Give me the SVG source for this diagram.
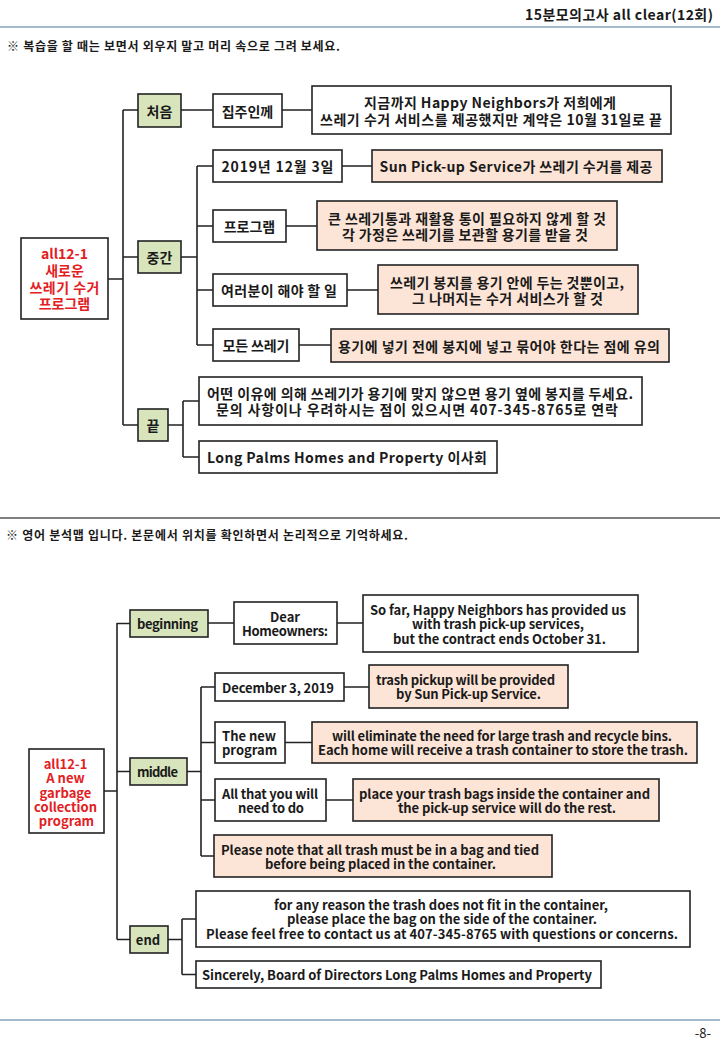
<svg xmlns="http://www.w3.org/2000/svg" width="720" height="1040" viewBox="0 0 720 1040">
<style>
text{font-family:"Noto Sans CJK KR","Noto Sans",sans-serif;fill:#1a1a1a;dominant-baseline:central}
.k{font-size:14px;font-weight:700;text-anchor:middle}
.e{font-size:13px;font-weight:700;text-anchor:middle}
.r{fill:#e3201f}
.box{fill:#fff;stroke:#222;stroke-width:1.6}
.g{fill:#d8e4bc;stroke:#222;stroke-width:1.6}
.p{fill:#fce4d6;stroke:#222;stroke-width:1.6}
.c{fill:none;stroke:#222;stroke-width:1.6}
.hd{font-size:14px;font-weight:700}
.ins{font-size:12px;font-weight:700}
</style>
<rect width="720" height="1040" fill="#fff"/>
<!-- page header -->
<g id="header">
<text class="hd" x="713" y="14" text-anchor="end" textLength="188">15분모의고사 all clear(12회)</text>
<line x1="0" y1="27" x2="720" y2="27" stroke="#86a3bf" stroke-width="1.6"/>
<text class="ins" x="7" y="45" textLength="333">※ 복습을 할 때는 보면서 외우지 말고 머리 속으로 그려 보세요.</text>
<line x1="0" y1="518" x2="720" y2="518" stroke="#555" stroke-width="1.4"/>
<text class="ins" x="6" y="534" textLength="402">※ 영어 분석맵 입니다. 본문에서 위치를 확인하면서 논리적으로 기억하세요.</text>
<line x1="0" y1="1020" x2="720" y2="1020" stroke="#86a3bf" stroke-width="1.6"/>
<text x="711" y="1032" text-anchor="end" font-size="13">-8-</text>
</g>

<!-- connectors -->
<g id="connectors" class="c">
<path d="M108 279H123M123 110V425M123 110H138M181 110H213M282 110H312M123 257H138M181 257H197M197 166V345M197 166H213M342 166H372M197 226H213M286 226H317M197 290H213M347 290H378M197 345H213M299 345H331M123 425H138M168 425H183M183 401V457M183 401H199M183 457H199"/>
<path d="M104 791H117M117 623V939.5M117 623.5H130M208 623H234M337 623H363M117 771.5H130M187 771.5H201M201 687V856M201 687H215M344 687H369M201 742.5H215M285 742.5H312M201 800H215M326 800H353M201 856H214M117 939.5H130M168 939.5H182M182 919V974.5M182 919H196M182 974.5H196"/>
</g>

<!-- top tree -->
<g id="k-root">
<rect class="box" x="21" y="238" width="87" height="81"/>
<text class="k r" x="64.5" y="253">all12-1</text>
<text class="k r" x="64.5" y="270">새로운</text>
<text class="k r" x="64.5" y="287" textLength="70">쓰레기 수거</text>
<text class="k r" x="64.5" y="303">프로그램</text>
</g>
<g id="k-begin"><rect class="g" x="138" y="94" width="43" height="33"/><text class="k" x="159.5" y="110.5">처음</text></g>
<g id="k-dear"><rect class="box" x="213" y="94" width="69" height="33"/><text class="k" x="247.5" y="110.5">집주인께</text></g>
<g id="k-sofar"><rect class="box" x="312" y="86" width="359" height="48"/>
<text class="k" x="490" y="102" textLength="252">지금까지 Happy Neighbors가 저희에게</text>
<text class="k" x="491" y="119" textLength="342">쓰레기 수거 서비스를 제공했지만 계약은 10월 31일로 끝</text></g>
<g id="k-middle"><rect class="g" x="138" y="241" width="43" height="32"/><text class="k" x="159.5" y="257">중간</text></g>
<g id="k-date"><rect class="box" x="213" y="150" width="129" height="32"/><text class="k" x="277.5" y="166" textLength="112">2019년 12월 3일</text></g>
<g id="k-sun"><rect class="p" x="372" y="150" width="290" height="32"/><text class="k" x="516" y="166" textLength="273">Sun Pick-up Service가 쓰레기 수거를 제공</text></g>
<g id="k-prog"><rect class="box" x="213" y="210" width="73" height="32"/><text class="k" x="249.5" y="226">프로그램</text></g>
<g id="k-elim"><rect class="p" x="317" y="201" width="300" height="49"/>
<text class="k" x="467" y="217.5" textLength="278">큰 쓰레기통과 재활용 통이 필요하지 않게 할 것</text>
<text class="k" x="465" y="233.5" textLength="246">각 가정은 쓰레기를 보관할 용기를 받을 것</text></g>
<g id="k-todo"><rect class="box" x="213" y="274" width="134" height="32"/><text class="k" x="279" y="290" textLength="116">여러분이 해야 할 일</text></g>
<g id="k-place"><rect class="p" x="378" y="265" width="260" height="49"/>
<text class="k" x="507" y="282" textLength="234">쓰레기 봉지를 용기 안에 두는 것뿐이고,</text>
<text class="k" x="507.5" y="298" textLength="191">그 나머지는 수거 서비스가 할 것</text></g>
<g id="k-all"><rect class="box" x="213" y="329" width="86" height="32"/><text class="k" x="256" y="345" textLength="67">모든 쓰레기</text></g>
<g id="k-note"><rect class="p" x="331" y="329" width="338" height="33"/><text class="k" x="499" y="345.5" textLength="322">용기에 넣기 전에 봉지에 넣고 묶어야 한다는 점에 유의</text></g>
<g id="k-end"><rect class="g" x="138" y="409" width="30" height="32"/><text class="k" x="153" y="425">끝</text></g>
<g id="k-reason"><rect class="box" x="199" y="377" width="443" height="48"/>
<text class="k" x="420" y="393" textLength="426">어떤 이유에 의해 쓰레기가 용기에 맞지 않으면 용기 옆에 봉지를 두세요.</text>
<text class="k" x="417" y="409" textLength="402">문의 사항이나 우려하시는 점이 있으시면 407-345-8765로 연락</text></g>
<g id="k-sign"><rect class="box" x="199" y="441" width="298" height="32"/><text class="k" x="347" y="457" textLength="280">Long Palms Homes and Property 이사회</text></g>

<!-- bottom tree -->
<g id="e-root">
<rect class="box" x="29" y="749" width="75" height="84"/>
<text class="e r" x="65.5" y="763">all12-1</text>
<text class="e r" x="65.5" y="777">A new</text>
<text class="e r" x="65.5" y="792">garbage</text>
<text class="e r" x="65.5" y="806">collection</text>
<text class="e r" x="66.5" y="820">program</text>
</g>
<g id="e-begin"><rect class="g" x="130" y="610" width="78" height="27"/><text class="e" x="167.5" y="623.5" textLength="61">beginning</text></g>
<g id="e-dear"><rect class="box" x="234" y="602" width="103" height="42"/>
<text class="e" x="285" y="616">Dear</text><text class="e" x="285" y="630" textLength="86">Homeowners:</text></g>
<g id="e-sofar"><rect class="box" x="363" y="595" width="275" height="57"/>
<text class="e" x="498" y="609" textLength="256">So far, Happy Neighbors has provided us</text>
<text class="e" x="498" y="623" textLength="172">with trash pick-up services,</text>
<text class="e" x="499.5" y="638" textLength="213">but the contract ends October 31.</text></g>
<g id="e-middle"><rect class="g" x="130" y="758" width="57" height="27"/><text class="e" x="157.5" y="771.5" textLength="41">middle</text></g>
<g id="e-date"><rect class="box" x="215" y="673" width="129" height="28"/><text class="e" x="278" y="687" textLength="112">December 3, 2019</text></g>
<g id="e-sun"><rect class="p" x="369" y="665" width="199" height="43"/>
<text class="e" x="465.5" y="679" textLength="179">trash pickup will be provided</text>
<text class="e" x="468.5" y="693" textLength="145">by Sun Pick-up Service.</text></g>
<g id="e-prog"><rect class="box" x="215" y="722" width="70" height="41"/>
<text class="e" x="222" y="735" style="text-anchor:start">The new</text>
<text class="e" x="222" y="749" style="text-anchor:start">program</text></g>
<g id="e-elim"><rect class="p" x="312" y="722" width="385" height="41"/>
<text class="e" x="502" y="735" textLength="340">will eliminate the need for large trash and recycle bins.</text>
<text class="e" x="503" y="749" textLength="370">Each home will receive a trash container to store the trash.</text></g>
<g id="e-todo"><rect class="box" x="215" y="779" width="111" height="42"/>
<text class="e" x="270" y="793" textLength="96">All that you will</text>
<text class="e" x="271" y="807" textLength="66">need to do</text></g>
<g id="e-place"><rect class="p" x="353" y="779" width="306" height="42"/>
<text class="e" x="504.5" y="793" textLength="291">place your trash bags inside the container and</text>
<text class="e" x="507" y="807" textLength="218">the pick-up service will do the rest.</text></g>
<g id="e-note"><rect class="p" x="214" y="835" width="338" height="42"/>
<text class="e" x="380" y="849" textLength="318">Please note that all trash must be in a bag and tied</text>
<text class="e" x="380.5" y="863" textLength="231">before being placed in the container.</text></g>
<g id="e-end"><rect class="g" x="130" y="926" width="38" height="27"/><text class="e" x="148" y="939.5">end</text></g>
<g id="e-reason"><rect class="box" x="196" y="891" width="494" height="56"/>
<text class="e" x="441" y="904" textLength="334">for any reason the trash does not fit in the container,</text>
<text class="e" x="442" y="918" textLength="310">please place the bag on the side of the container.</text>
<text class="e" x="442" y="933" textLength="472">Please feel free to contact us at 407-345-8765 with questions or concerns.</text></g>
<g id="e-sign"><rect class="box" x="196" y="961" width="405" height="27"/><text class="e" x="397" y="974.5" textLength="390">Sincerely, Board of Directors Long Palms Homes and Property</text></g>
</svg>
